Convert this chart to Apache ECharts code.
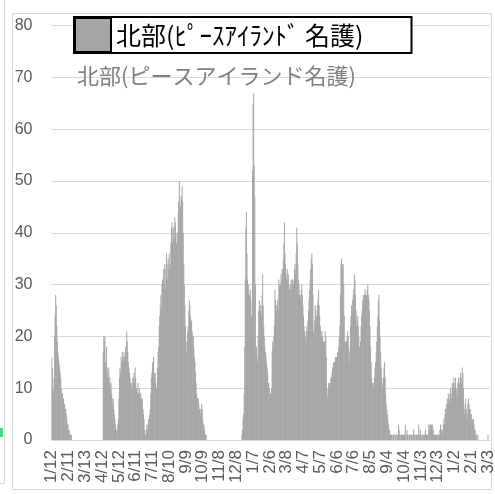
<!DOCTYPE html>
<html><head><meta charset="utf-8">
<script src="https://cdn.jsdelivr.net/npm/echarts@6/dist/echarts.min.js"></script>
<style>html,body{margin:0;padding:0;background:#fff}#c{width:495px;height:494px}</style>
</head><body><div id="c"></div>
<script>
const seriesName = '北部(ﾋﾟｰｽｱｲﾗﾝﾄﾞ 名護)';
const chartTitle = '北部(ピースアイランド名護)';
const firstDay = [2021, 0, 12];
const dayCount = 784;
const labelEvery = 30;
const yMax = 80, yStep = 10;

// daily values, one array per calendar month (2021-01 starts on 1/12)
const m2021_01 = [16,14,10,9,12,20,24,28,26,22,19,17,16,15,14,13,12,10,9,9];
const m2021_02 = [8,8,7,7,6,6,5,4,3,3,2,2,1,1,1,1,0,0,0,0,0,0,0,0,0,0,0,0];
const m2021_03 = [0,0,0,0,0,0,0,0,0,0,0,0,0,0,0,0,0,0,0,0,0,0,0,0,0,0,0,0,0,0,0];
const m2021_04 = [0,0,0,0,0,0,0,0,0,0,0,0,0,17,20,19,20,15,13,18,14,12,13,14,11,12,10,11,9,8];
const m2021_05 = [7,8,6,5,4,3,2,2,1,3,4,8,12,14,13,16,15,17,16,15,17,16,15,18,17,21,19,17,15,14,13];
const m2021_06 = [12,11,10,11,10,12,12,13,11,14,12,10,10,9,11,9,8,10,9,9,8,7,8,6,5,4,2,1,1,2];
const m2021_07 = [3,2,3,4,3,5,6,9,12,13,15,14,16,13,12,13,11,10,10,14,17,18,22,24,26,28,25,30,31,29,33];
const m2021_08 = [30,34,29,33,36,34,31,35,33,36,34,33,38,41,42,38,40,41,39,43,42,40,38,36,40,44,46,50,47,45,44];
const m2021_09 = [47,49,46,40,34,30,26,22,19,17,19,21,22,25,27,26,24,22,23,21,20,20,18,16,15,13,11,9,8,8];
const m2021_10 = [8,7,6,6,5,6,7,6,4,3,3,2,1,1,1,0,0,0,0,0,0,0,0,0,0,0,0,0,0,0,0];
const m2021_11 = [0,0,0,0,0,0,0,0,0,0,0,0,0,0,0,0,0,0,0,0,0,0,0,0,0,0,0,0,0,0];
const m2021_12 = [0,0,0,0,0,0,0,0,0,0,0,0,0,0,0,0,0,1,2,4,5,9,18,31,41,44,36,31,29,30,28];
const m2022_01 = [28,29,27,24,18,52,65,67,53,47,30,16,18,16,15,20,25,27,26,25,26,24,28,32,26,22,20,18,17,16,15];
const m2022_02 = [14,13,11,11,10,9,9,8,10,17,19,18,20,22,29,27,26,25,26,27,25,31,30,29,30,32,31,33];
const m2022_03 = [33,35,38,42,36,34,32,31,33,31,32,30,29,28,30,31,29,31,30,30,31,33,34,32,36,41,38,34,31,30,28];
const m2022_04 = [28,27,29,30,28,26,24,22,21,20,19,21,22,21,23,25,27,29,31,33,35,36,34,28,21,20,23,26,25,24];
const m2022_05 = [24,26,27,29,26,24,22,21,20,21,20,19,19,18,19,21,20,16,10,8,9,11,10,11,11,12,12,13,14,14,15];
const m2022_06 = [15,15,16,15,16,16,17,16,18,20,22,28,34,35,34,33,34,30,24,19,19,18,19,20,21,20,18,15,17,22];
const m2022_07 = [24,26,25,27,28,29,32,31,28,25,22,23,24,22,20,18,17,19,22,24,25,27,28,27,28,29,28,27,28,29,30];
const m2022_08 = [28,27,25,22,18,15,12,11,11,10,11,12,14,15,17,19,22,24,27,28,23,20,17,14,12,10,11,12,14,15,12];
const m2022_09 = [9,7,6,5,4,3,2,2,1,1,1,1,0,1,1,1,0,1,1,0,1,1,0,3,2,1,1,0,1,1];
const m2022_10 = [1,0,1,1,1,3,1,0,2,1,1,0,1,1,0,1,1,1,0,1,2,1,1,0,1,1,1,0,1,3,1];
const m2022_11 = [1,2,1,0,1,1,0,1,1,1,2,1,1,0,1,1,3,2,3,3,2,3,1,3,2,1,1,0,1,1];
const m2022_12 = [1,1,0,1,1,1,2,3,1,2,2,1,3,4,3,5,6,5,7,8,7,9,8,7,9,10,9,8,11,10,11];
const m2023_01 = [12,10,11,12,9,10,8,11,12,10,11,12,13,11,12,14,13,10,6,5,7,8,6,5,4,7,8,7,6,6,5];
const m2023_02 = [5,4,4,3,4,3,2,2,1,1,1,0,1,0,0,0,0,0,0,0,0,0,0,0,0,0,0,0];
const m2023_03 = [0,0,1];

const values = [].concat(m2021_01,m2021_02,m2021_03,m2021_04,m2021_05,m2021_06,m2021_07,m2021_08,
  m2021_09,m2021_10,m2021_11,m2021_12,m2022_01,m2022_02,m2022_03,m2022_04,m2022_05,m2022_06,
  m2022_07,m2022_08,m2022_09,m2022_10,m2022_11,m2022_12,m2023_01,m2023_02,m2023_03);

const categories = [];
const t0 = Date.UTC(firstDay[0], firstDay[1], firstDay[2]);
for (let i = 0; i < dayCount; i++) {
  const dt = new Date(t0 + i * 86400000);
  categories.push((dt.getUTCMonth() + 1) + '/' + dt.getUTCDate());
}
const every = (i) => i % labelEvery === 0 && i <= values.length - 1;

const chart = echarts.init(document.getElementById('c'), null, {renderer: 'canvas'});
chart.setOption({
  animation: false,
  backgroundColor: '#fff',
  title: {
    text: chartTitle, left: 77, top: 65, padding: 0,
    textStyle: {fontSize: 22, fontWeight: 'normal', color: '#808080', fontFamily: 'Noto Sans CJK JP'}
  },
  legend: {
    data: [seriesName], left: 74, top: 17, padding: [0, 48, 0, 0],
    itemWidth: 36, itemHeight: 34, icon: 'rect',
    borderColor: '#000', borderWidth: 2, backgroundColor: '#fff',
    itemStyle: {borderColor: '#000', borderWidth: 2},
    textStyle: {fontSize: 25, color: '#000', fontFamily: 'Noto Sans CJK JP', lineHeight: 34},
    z: 10
  },
  grid: {left: 51.5, right: 5, top: 25.6, bottom: 54, outerBoundsMode: 'none'},
  xAxis: {
    type: 'category', data: categories,
    axisLine: {lineStyle: {color: '#d9d9d9'}},
    axisTick: {interval: every, alignWithLabel: true, length: 5, lineStyle: {color: '#d9d9d9'}},
    axisLabel: {interval: 0, formatter: (v, i) => every(i) ? v : '',
      rotate: 90, fontSize: 17, color: '#595959', margin: 10,
      fontFamily: 'Liberation Sans', hideOverlap: false}
  },
  yAxis: {
    type: 'value', min: 0, max: yMax, interval: yStep,
    axisLabel: {fontSize: 16, color: '#595959', margin: 19, fontFamily: 'Liberation Sans'},
    splitLine: {lineStyle: {color: '#d9d9d9'}}
  },
  series: [{
    type: 'bar', name: seriesName, data: values, barCategoryGap: '15%',
    itemStyle: {color: '#a5a5a5'}
  }],
  graphic: [
    {type: 'rect', silent: true, z: -1, shape: {x: 12.5, y: 13.5, width: 479, height: 476},
     style: {fill: 'none', stroke: '#d9d9d9', lineWidth: 1}},
    {type: 'line', silent: true, shape: {x1: 4.5, y1: 0, x2: 4.5, y2: 483.5},
     style: {stroke: '#d9d9d9', lineWidth: 1}},
    {type: 'line', silent: true, shape: {x1: 0, y1: 483.5, x2: 4.5, y2: 483.5},
     style: {stroke: '#d9d9d9', lineWidth: 1}},
    {type: 'rect', silent: true, shape: {x: 0, y: 428, width: 3, height: 9},
     style: {fill: '#3ddc84'}}
  ]
});
</script>
</body></html>
